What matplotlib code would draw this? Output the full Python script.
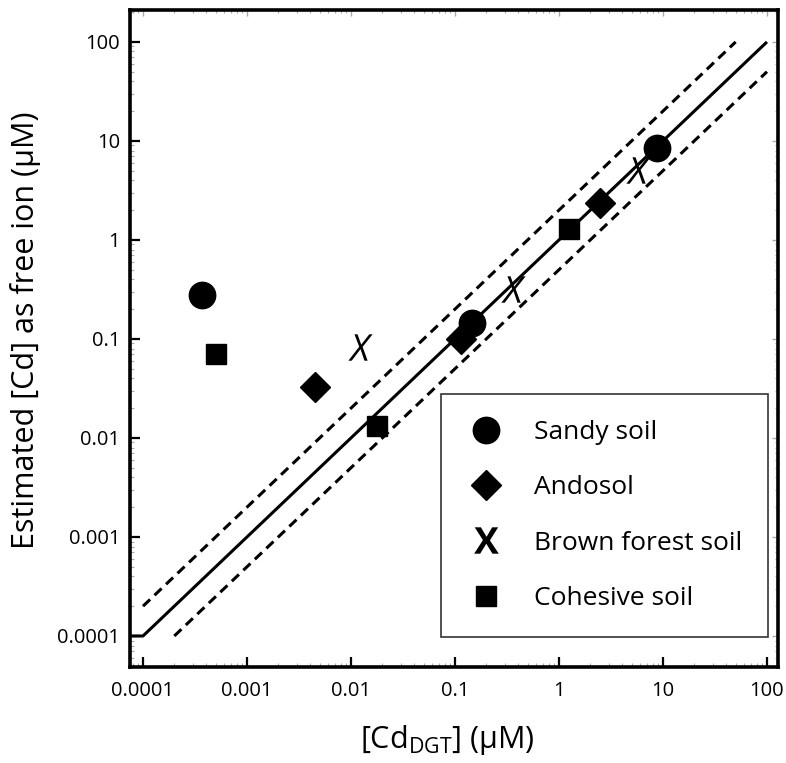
import numpy as np
import matplotlib
matplotlib.use("Agg")
import matplotlib.pyplot as plt
from matplotlib.lines import Line2D

plt.rcParams["font.family"] = ["Open Sans", "DejaVu Sans"]
plt.rcParams["mathtext.fontset"] = "custom"
plt.rcParams["mathtext.rm"] = "Open Sans"
plt.rcParams["mathtext.it"] = "Open Sans:italic"
plt.rcParams["mathtext.bf"] = "Open Sans:bold"

# measured data: [Cd_DGT] (x) vs estimated free ion [Cd] (y), uM
sandy_x = [3.7e-4, 0.145, 8.7]
sandy_y = [0.275, 0.145, 8.5]
andosol_x = [0.0045, 0.115, 2.5]
andosol_y = [0.033, 0.10, 2.35]
brown_x = [0.0122, 0.36, 5.7]
brown_y = [0.082, 0.32, 5.1]
cohesive_x = [5.0e-4, 0.0178, 1.25]
cohesive_y = [0.071, 0.0132, 1.3]

# reference lines (1:1 and factor-of-two bounds)
one_x = [7.5e-5, 1e-4, 100]
one_y = [1e-4, 1e-4, 100]
upper_x = [1e-4, 50]
upper_y = [2e-4, 100]
lower_x = [2e-4, 100]
lower_y = [1e-4, 50]

tick_vals = [1e-4, 1e-3, 1e-2, 0.1, 1, 10, 100]
tick_labels = ["0.0001", "0.001", "0.01", "0.1", "1", "10", "100"]

fig = plt.figure(figsize=(7.86, 7.63), dpi=100)
ax = fig.add_axes([0.1654, 0.1258, 0.8244, 0.8611])

ax.plot(one_x, one_y, color="black", lw=2.2, solid_capstyle="butt")
ax.plot(upper_x, upper_y, color="black", lw=2.2, dashes=(3.2, 2.0))
ax.plot(lower_x, lower_y, color="black", lw=2.2, dashes=(3.2, 2.0))

ax.plot(sandy_x, sandy_y, marker="o", color="black", ms=19, ls="none")
ax.plot(andosol_x, andosol_y, marker="D", color="black", ms=15, ls="none")
ax.plot(brown_x, brown_y, marker=r"$X$", color="black", ms=19, mew=0, ls="none")
ax.plot(cohesive_x, cohesive_y, marker="s", color="black", ms=15, ls="none")

ax.set_xscale("log")
ax.set_yscale("log")
ax.set_xlim(7.5e-5, 127.6)
ax.set_ylim(4.86e-5, 210)
ax.set_xticks(tick_vals, tick_labels)
ax.set_yticks(tick_vals, tick_labels)

for s in ax.spines.values():
    s.set_linewidth(2.6)
ax.tick_params(which="major", direction="in", length=7.5, width=1.6,
               labelsize=14.5, color="black")
ax.tick_params(axis="x", which="major", pad=10)
ax.tick_params(axis="y", which="major", pad=7)
ax.tick_params(which="minor", direction="in", length=3, width=0.8,
               color="#aaaaaa")

# faint ticks on the top and right edges
top = ax.secondary_xaxis("top")
top.set_xticks(tick_vals)
top.tick_params(which="both", direction="in", labeltop=False, color="#aaaaaa")
top.tick_params(which="major", length=4, width=1)
top.tick_params(which="minor", length=2.5, width=0.8)
right = ax.secondary_yaxis("right")
right.set_yticks(tick_vals)
right.tick_params(which="both", direction="in", labelright=False, color="#aaaaaa")
right.tick_params(which="major", length=4, width=1)
right.tick_params(which="minor", length=2.5, width=0.8)
for sec in (top, right):
    for s in sec.spines.values():
        s.set_visible(False)

ax.set_xlabel(r"[Cd$_{\mathrm{DGT}}$] ($\mathrm{\mu}$M)", fontsize=22)
ax.set_ylabel("Estimated [Cd] as free ion (μM)", fontsize=22)
ax.xaxis.set_label_coords(0.49, -0.085)
ax.yaxis.set_label_coords(-0.137, 0.513)

handles = [
    Line2D([], [], marker="o", color="black", ms=19, ls="none"),
    Line2D([], [], marker="D", color="black", ms=15, ls="none"),
    Line2D([], [], marker=r"$\mathbf{X}$", color="black", ms=19, mew=0, ls="none"),
    Line2D([], [], marker="s", color="black", ms=15, ls="none"),
]
names = ["Sandy soil", "Andosol", "Brown forest soil", "Cohesive soil"]
leg = ax.legend(handles, names, loc="lower right", bbox_to_anchor=(0.985, 0.045),
                fontsize=19, frameon=True, fancybox=False, edgecolor="#333333",
                framealpha=1, borderpad=1.0, labelspacing=1.15,
                handletextpad=1.1, handlelength=1.4, borderaxespad=0)
leg.get_frame().set_linewidth(1.2)

fig.savefig("out.png", dpi=100)
